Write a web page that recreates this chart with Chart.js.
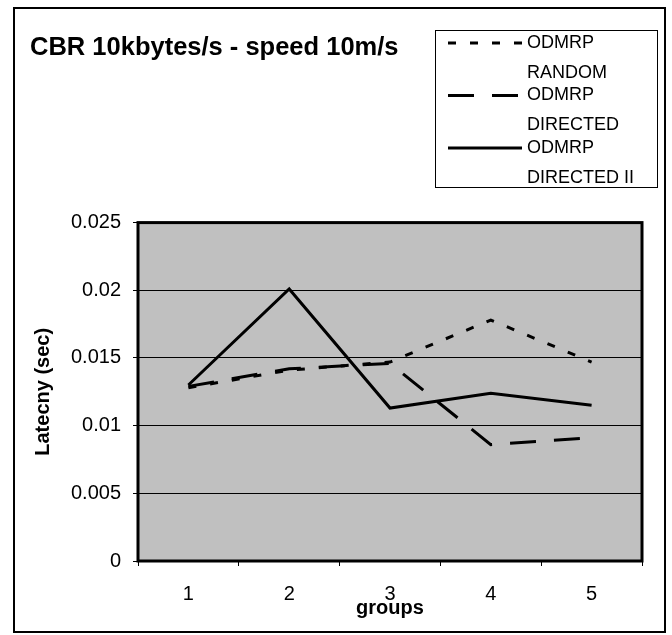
<!DOCTYPE html>
<html>
<head>
<meta charset="utf-8">
<script src="https://cdn.jsdelivr.net/npm/chart.js@4.4.1/dist/chart.umd.min.js"></script>
<style>
  html, body { margin: 0; padding: 0; background: #fff; }
</style>
</head>
<body>
<canvas id="latency_chart" width="672" height="635"></canvas>
<script>
// data
const groups = ['1', '2', '3', '4', '5'];
const seriesNames = ['ODMRP RANDOM', 'ODMRP DIRECTED', 'ODMRP DIRECTED II'];
const odmrpRandom = [0.0128, 0.0141, 0.0147, 0.0178, 0.0147];
const odmrpDirected = [0.0129, 0.0142, 0.0146, 0.0086, 0.0091];
const odmrpDirected2 = [0.0130, 0.0201, 0.0113, 0.0124, 0.0115];
const yTicks = [0, 0.005, 0.01, 0.015, 0.02, 0.025];

const FONT = '"Liberation Sans", Arial, sans-serif';

// gray plot, thick plot border, outer frame
const plotFrame = {
    id: 'plotFrame',
    beforeDraw(chart) {
        const { ctx, chartArea: a } = chart;
        ctx.save();
        ctx.fillStyle = '#fff';
        ctx.fillRect(0, 0, chart.width, chart.height);
        ctx.fillStyle = '#c0c0c0';
        ctx.fillRect(a.left, a.top, a.right - a.left, a.bottom - a.top);
        ctx.restore();
    },
    afterDraw(chart) {
        const { ctx, chartArea: a } = chart;
        ctx.save();
        ctx.strokeStyle = '#000';
        ctx.lineWidth = 3;
        ctx.strokeRect(a.left, a.top, a.right - a.left, a.bottom - a.top);
        ctx.lineWidth = 2;
        ctx.strokeRect(14, 8, 651, 624);
        ctx.restore();
    }
};

// boxed legend, two text lines per entry
const legendBox = {
    id: 'legendBox',
    afterDraw(chart) {
        const ctx = chart.ctx;
        ctx.save();
        ctx.fillStyle = '#fff';
        ctx.fillRect(435, 30, 222, 157);
        ctx.strokeStyle = '#000';
        ctx.lineWidth = 1;
        ctx.strokeRect(435.5, 30.5, 222, 157);
        ctx.font = '18px ' + FONT;
        ctx.fillStyle = '#000';
        ctx.textBaseline = 'middle';
        chart.data.datasets.forEach((ds, i) => {
            const y = 43 + i * 52.5;
            ctx.setLineDash(ds.borderDash || []);
            ctx.lineWidth = ds.borderWidth;
            ctx.beginPath();
            ctx.moveTo(448, y);
            ctx.lineTo(522, y);
            ctx.stroke();
            ctx.setLineDash([]);
            const parts = ds.label.split(' ');
            ctx.fillText(parts[0], 527, y);
            ctx.fillText(parts.slice(1).join(' '), 527, y + 30);
        });
        ctx.restore();
    }
};

const ctx = document.getElementById('latency_chart').getContext('2d');
const latency_chart = new Chart(ctx, {
    type: 'line',
    data: {
        labels: groups,
        datasets: [
            { label: seriesNames[0], data: odmrpRandom, borderColor: '#000', borderWidth: 3, borderDash: [8, 14], pointRadius: 0, fill: false, tension: 0 },
            { label: seriesNames[1], data: odmrpDirected, borderColor: '#000', borderWidth: 3, borderDash: [26, 18], pointRadius: 0, fill: false, tension: 0 },
            { label: seriesNames[2], data: odmrpDirected2, borderColor: '#000', borderWidth: 3, borderDash: [], pointRadius: 0, fill: false, tension: 0 }
        ]
    },
    options: {
        responsive: false,
        animation: false,
        layout: { padding: { left: 30, right: 30, top: 0, bottom: 13 } },
        plugins: {
            legend: { display: false },
            tooltip: { enabled: false },
            title: {
                display: true,
                text: 'CBR 10kbytes/s - speed 10m/s',
                align: 'start',
                color: '#000',
                font: { family: FONT, size: 25.5, weight: 'bold' },
                padding: { top: 33, bottom: 159 }
            }
        },
        scales: {
            x: {
                offset: true,
                grid: { offset: true, drawOnChartArea: false, drawTicks: true, tickLength: 5, color: '#000', lineWidth: 1 },
                border: { display: false },
                ticks: { color: '#000', font: { family: FONT, size: 20 }, padding: 16, maxRotation: 0 },
                title: {
                    display: true,
                    text: 'groups',
                    color: '#000',
                    font: { family: FONT, size: 20, weight: 'bold' },
                    padding: { top: -26, bottom: 2 }
                }
            },
            y: {
                min: 0,
                max: 0.025,
                afterBuildTicks: scale => { scale.ticks = yTicks.map(v => ({ value: v })); },
                afterFit: scale => { scale.width = 108; },
                grid: { color: '#000', lineWidth: 1, tickLength: 5 },
                border: { display: false },
                ticks: { color: '#000', font: { family: FONT, size: 20 }, padding: 12, callback: v => String(v) },
                title: {
                    display: true,
                    text: 'Latecny (sec)',
                    color: '#000',
                    font: { family: FONT, size: 20, weight: 'bold' },
                    padding: { top: 1, bottom: 14 }
                }
            }
        }
    },
    plugins: [plotFrame, legendBox]
});
</script>
</body>
</html>
